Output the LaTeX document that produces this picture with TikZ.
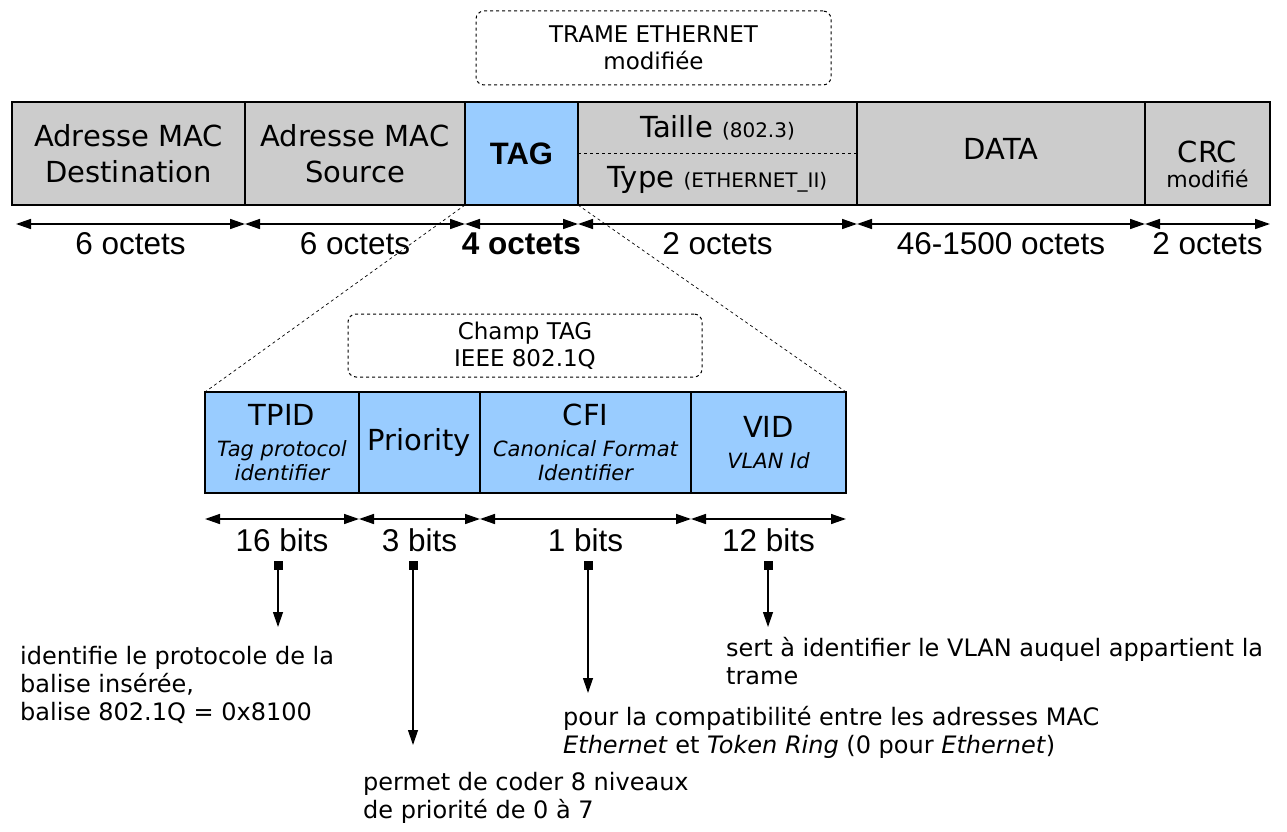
\documentclass[tikz,border=0pt]{standalone}
\usepackage{fontspec}
\setmainfont{DejaVu Sans}
\newfontfamily\arialfont{Liberation Sans}
\usetikzlibrary{positioning}
\usetikzlibrary{arrows.meta}
\definecolor{cellgray}{RGB}{204,204,204}
\definecolor{tagblue}{RGB}{153,204,255}
\newcommand\cellfont{\fontsize{29}{36}\selectfont}
\newcommand\parenfont{\fontsize{20}{24}\selectfont}
\newcommand\subfont{\fontsize{21}{24}\selectfont}
\newcommand\titlefont{\fontsize{23}{27}\selectfont}
\newcommand\dimfont{\arialfont\fontsize{31.5}{36}\selectfont}
\newcommand\notefont{\fontsize{24}{28}\selectfont}
\tikzset{cell/.style={draw,line width=1.3pt,fill=cellgray,anchor=north west,outer sep=0pt,
                      minimum height=103pt,inner sep=0pt,align=center,font=\cellfont},
         field/.style={cell,fill=tagblue,minimum height=101pt,font=\subfont\itshape},
         title/.style={draw,dashed,rounded corners=8pt,line width=1pt,align=center,font=\titlefont},
         dim/.style={{Triangle[length=15pt,width=10pt]}-{Triangle[length=15pt,width=10pt]},line width=1.5pt},
         dimlabel/.style={midway,below=8pt,font=\dimfont,inner sep=0pt},
         zoomline/.style={dashed,line width=0.7pt},
         bitmark/.style={fill,minimum size=9pt,inner sep=0pt},
         pointer/.style={-{Triangle[length=15pt,width=10pt]},line width=1.2pt},
         note/.style={anchor=north west,align=left,font=\notefont,inner sep=0pt},
         }

\begin{document}
\begin{tikzpicture}[x=1pt,y=-1pt]
\useasboundingbox (0,0) rectangle (1287,832);
% trame ethernet
\node[title,minimum width=355pt,minimum height=74pt] (trame) at (653.5,48) {TRAME ETHERNET\\modifiée};
\node[cell,minimum width=233pt] (dst) at (12,102) {Adresse MAC\\Destination};
\node[cell,minimum width=220pt] (src) at (dst.north east) {Adresse MAC\\Source};
\node[cell,fill=tagblue,minimum width=113pt,font=\arialfont\bfseries\fontsize{31}{34}\selectfont] (tag) at (src.north east) {TAG};
\node[cell,minimum width=279pt] (len) at (tag.north east) {};
\node[font=\cellfont] (taille) at ([yshift=26pt]len.center) {Taille {\parenfont (802.3)}};
\node[font=\cellfont] (type) at ([yshift=-26pt]len.center) {Type {\parenfont (ETHERNET\_II)}};
\draw[dashed,line width=0.8pt] (len.west) -- (len.east);
\node[cell,minimum width=288pt] (data) at (len.north east) {};
\node[font=\cellfont] (datatxt) at ([yshift=5pt]data.center) {DATA};
\node[cell,minimum width=125pt] (crc) at (data.north east) {};
\node[font=\fontsize{22}{25}\selectfont,align=center,inner sep=0pt] (crctxt) at ([yshift=-11pt]crc.center) {{\cellfont CRC}\\modifié};

\draw[dim] ([xshift=4pt,yshift=-19pt]dst.south west) -- ([yshift=-19pt]dst.south east) node[dimlabel] {6 octets};
\draw[dim] ([yshift=-19pt]src.south west) -- ([yshift=-19pt]src.south east) node[dimlabel] {6 octets};
\draw[dim] ([yshift=-19pt]tag.south west) -- ([yshift=-19pt]tag.south east) node[dimlabel] {\bfseries 4 octets};
\draw[dim] ([yshift=-19pt]len.south west) -- ([yshift=-19pt]len.south east) node[dimlabel] {2 octets};
\draw[dim] ([yshift=-19pt]data.south west) -- ([yshift=-19pt]data.south east) node[dimlabel] {46-1500 octets};
\draw[dim] ([yshift=-19pt]crc.south west) -- ([yshift=-19pt]crc.south east) node[dimlabel] {2 octets};

% champ tag
\node[title,minimum width=354pt,minimum height=63pt] (champ) at (525,345.5) {Champ TAG\\IEEE 802.1Q};
\node[field,minimum width=154pt] (tpid) at (205,392) {{\upshape\cellfont TPID}\\[7pt]Tag protocol\\identifier};
\node[field,minimum width=121pt,font=\cellfont] (prio) at (tpid.north east) {Priority};
\node[field,minimum width=211pt] (cfi) at (prio.north east) {{\upshape\cellfont CFI}\\[7pt]Canonical Format\\Identifier};
\node[field,minimum width=155pt] (vid) at (cfi.north east) {{\upshape\cellfont VID}\\[7pt]VLAN Id};
\draw[zoomline] (tag.south west) -- (tpid.north west);
\draw[zoomline] (tag.south east) -- (vid.north east);

\draw[dim] ([yshift=-26pt]tpid.south west) -- ([yshift=-26pt]tpid.south east) node[dimlabel,below=9pt] {16 bits};
\draw[dim] ([yshift=-26pt]prio.south west) -- ([yshift=-26pt]prio.south east) node[dimlabel,below=9pt] {3 bits};
\draw[dim] ([yshift=-26pt]cfi.south west) -- ([yshift=-26pt]cfi.south east) node[dimlabel,below=9pt] {1 bits};
\draw[dim] ([yshift=-26pt]vid.south west) -- ([yshift=-26pt]vid.south east) node[dimlabel,below=9pt] {12 bits};

% explications
\node[bitmark] (m1) at (278,565) {};
\node[bitmark] (m2) at (413,565) {};
\node[bitmark] (m3) at (588,565) {};
\node[bitmark] (m4) at (768,565) {};
\coordinate (p1) at (278,627);
\coordinate (p2) at (413,745);
\coordinate (p3) at (588,693);
\coordinate (p4) at (768,627);
\draw[pointer] (m1) -- (p1);
\draw[pointer] (m2) -- (p2);
\draw[pointer] (m3) -- (p3);
\draw[pointer] (m4) -- (p4);
\node[note] (n1) at (20,646) {identifie le protocole de la\\balise insérée,\\balise 802.1Q = 0x8100};
\node[note] (n2) at (363,772) {permet de coder 8 niveaux\\de priorité de 0 à 7};
\node[note] (n3) at (563,706) {pour la compatibilité entre les adresses MAC\\\textit{Ethernet} et \textit{Token Ring} (0 pour \textit{Ethernet})};
\node[note] (n4) at (726,637) {sert à identifier le VLAN auquel appartient la\\trame};
\end{tikzpicture}
\end{document}
